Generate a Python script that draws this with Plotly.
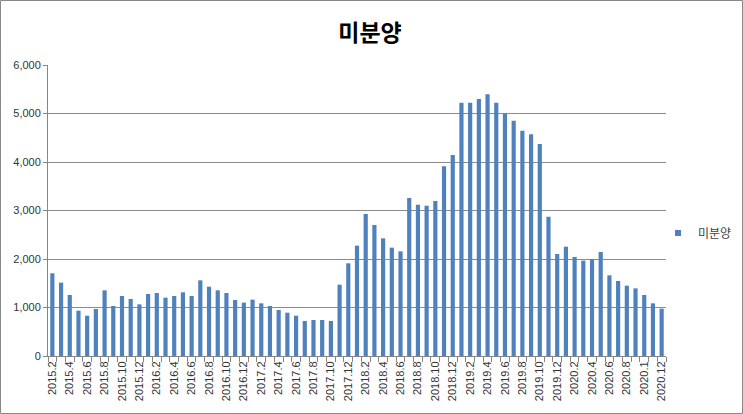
import plotly.graph_objects as go

months = []
for y in range(2015, 2021):
    for m in range(1, 13):
        if y == 2015 and m == 1:
            continue
        months.append(f"{y}.{m}")

values = [
    1705, 1512, 1258, 934, 831, 969, 1354, 1031, 1237, 1175, 1065,      # 2015.2-12
    1278, 1299, 1203, 1237, 1313, 1237, 1560, 1429, 1354, 1299, 1155, 1100,  # 2016
    1162, 1086, 1031, 948, 893, 831, 722, 742, 742, 722, 1471, 1911,    # 2017
    2275, 2928, 2701, 2426, 2234, 2158, 3258, 3120, 3100, 3196, 3911, 4144,  # 2018
    5223, 5223, 5299, 5395, 5223, 4997, 4852, 4646, 4570, 4371, 2873, 2103,  # 2019
    2254, 2041, 1966, 1993, 2144, 1663, 1546, 1450, 1395, 1258, 1086, 976,   # 2020
]

# tick labels as shown (every other month; Oct 2020 displayed as "2020.1")
tick_text = []
for i, mth in enumerate(months):
    if i % 2 == 0:
        tick_text.append("2020.1" if mth == "2020.10" else mth)
    else:
        tick_text.append("")

series_name = "미분양"
title_text = "미분양"
bar_color = "#4F81BD"

W, H = 743, 414
L, R, T, B = 48, 77, 65, 58
pw, ph = W - L - R, H - T - B

fig = go.Figure()
fig.add_trace(go.Bar(x=months, y=values, name=series_name, marker_color=bar_color,
                     marker_line_width=0, showlegend=False))
# legend entry with a small square marker
fig.add_trace(go.Scatter(x=[None], y=[None], mode="markers", name=series_name,
                         marker=dict(symbol="square", size=6, color=bar_color),
                         showlegend=True))

def px_x(p):
    return (p - L) / pw

def px_y(p):
    return (H - B - p) / ph

fig.update_layout(
    width=W, height=H,
    margin=dict(l=L, r=R, t=T, b=B, autoexpand=False),
    paper_bgcolor="white", plot_bgcolor="white",
    bargap=0.52,
    title=dict(text=title_text, x=(370) / W, xanchor="center", y=1 - 33 / H, yanchor="middle",
               font=dict(family="Noto Sans CJK KR", size=23, color="#000000", weight="bold")),
    showlegend=True,
    legend=dict(x=px_x(658), y=px_y(233), xanchor="left", yanchor="middle",
                font=dict(family="Noto Sans CJK KR", size=12, color="#404040"),
                bgcolor="rgba(0,0,0,0)", itemwidth=30),
    xaxis=dict(
        type="category", tickmode="array", tickvals=months, ticktext=tick_text,
        tickangle=-90, tickfont=dict(family="Liberation Sans", size=11, color="#333333"),
        showgrid=False, showline=True, linecolor="#868686", linewidth=1,
        ticks="outside", ticklen=5, tickcolor="#868686", tickson="boundaries",
        range=[-0.5, len(months) - 0.5],
    ),
    yaxis=dict(
        range=[0, 6000], dtick=1000, tickformat=",",
        tickfont=dict(family="Liberation Sans", size=11, color="#333333"),
        showgrid=True, gridcolor="#8c8c8c", gridwidth=1,
        showline=True, linecolor="#868686", linewidth=1,
        ticks="outside", ticklen=4, tickcolor="#868686", zeroline=False,
    ),
    shapes=[dict(type="rect", xref="paper", yref="paper",
                 x0=px_x(0.5), x1=px_x(W - 0.5), y0=px_y(H - 0.5), y1=px_y(0.5),
                 line=dict(color="#888888", width=1), fillcolor="rgba(0,0,0,0)", layer="above")],
)

fig.write_html("out.html")
